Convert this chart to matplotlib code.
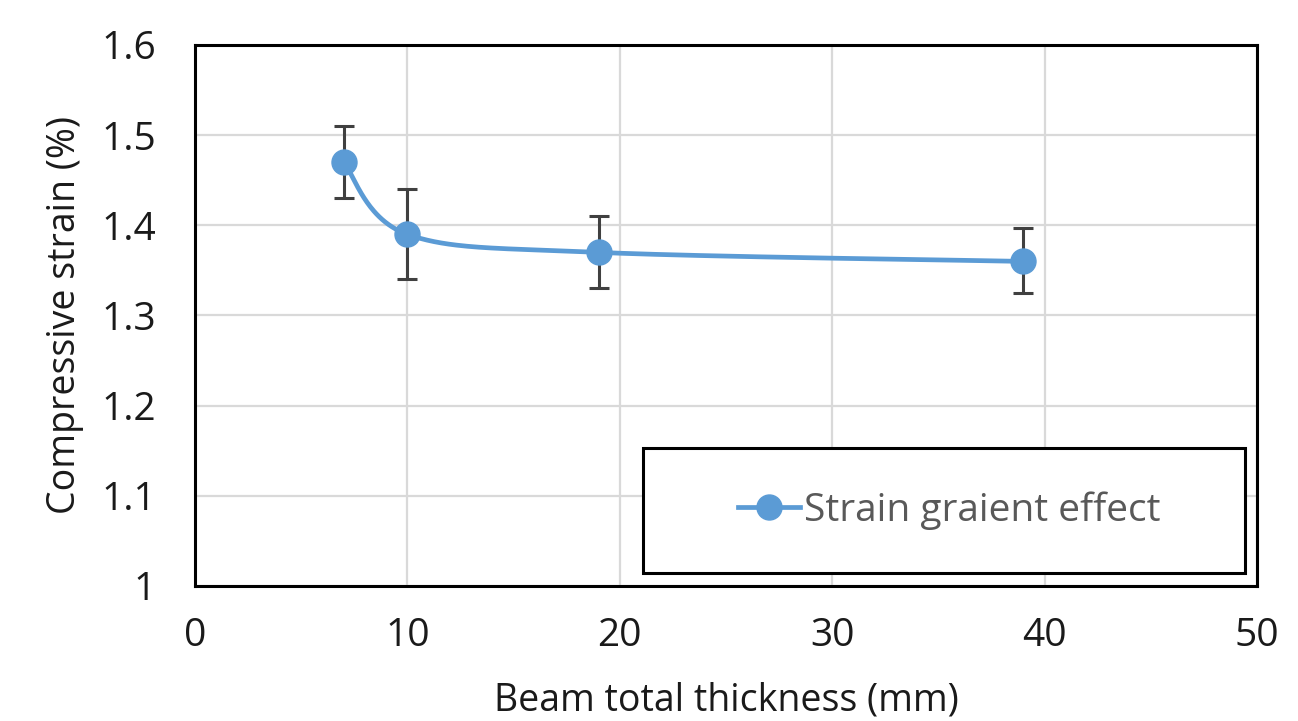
import numpy as np
import matplotlib
matplotlib.use("Agg")
import matplotlib.pyplot as plt
from matplotlib.lines import Line2D
from matplotlib.patches import Rectangle

plt.rcParams['font.family'] = ['Open Sans', 'DejaVu Sans']

thickness = [7, 10, 19, 39]
strain = [1.47, 1.39, 1.37, 1.36]
err_low = [1.43, 1.34, 1.33, 1.325]
err_high = [1.51, 1.44, 1.41, 1.397]
series_label = "Strain graient effect"
xlabel = "Beam total thickness (mm)"
ylabel = "Compressive strain (%)"
xticks = [0, 10, 20, 30, 40, 50]
yticks = [1.0, 1.1, 1.2, 1.3, 1.4, 1.5, 1.6]
ytick_labels = ["1", "1.1", "1.2", "1.3", "1.4", "1.5", "1.6"]

blue = "#5B9BD5"
dark = "#404040"
txt = "#1a1a1a"

fig = plt.figure(figsize=(12.98, 7.21), dpi=100)
ax = fig.add_axes([195/1298, 1-586/721, (1257-195)/1298, (586-45)/721])
ax.set_xlim(0, 50)
ax.set_ylim(1.0, 1.6)

# Excel-like smoothed line (cardinal bezier) computed in normalized space
def smooth(xs, ys, xr, yr, n=60):
    asp = 541/1062
    P = np.column_stack([(np.array(xs) - xr[0]) / (xr[1] - xr[0]),
                         (np.array(ys) - yr[0]) / (yr[1] - yr[0]) * asp])
    out = []
    m = len(P)
    for i in range(m - 1):
        p0 = P[i - 1] if i > 0 else P[i]
        p1, p2 = P[i], P[i + 1]
        p3 = P[i + 2] if i + 2 < m else P[i + 1]
        c1 = p1 + (p2 - p0) / 6
        c2 = p2 - (p3 - p1) / 6
        t = np.linspace(0, 1, n)[:, None]
        seg = (1-t)**3*p1 + 3*(1-t)**2*t*c1 + 3*(1-t)*t**2*c2 + t**3*p2
        out.append(seg if i == 0 else seg[1:])
    S = np.vstack(out)
    sx = S[:, 0] * (xr[1] - xr[0]) + xr[0]
    sy = S[:, 1] / asp * (yr[1] - yr[0]) + yr[0]
    return sx, sy

sx, sy = smooth(thickness, strain, (0, 50), (1.0, 1.6))
ax.plot(sx, sy, color=blue, lw=3.4, zorder=3, solid_capstyle='round')

s = np.array(strain)
yerr = [s - np.array(err_low), np.array(err_high) - s]
ax.errorbar(thickness, strain, yerr=yerr, fmt='none', ecolor=dark, elinewidth=2.2,
            capsize=7.5, capthick=2.2, zorder=2)
ax.plot(thickness, strain, 'o', color=blue, ms=18, zorder=4)

ax.set_xticks(xticks)
ax.set_yticks(yticks)
ax.set_yticklabels(ytick_labels)
ax.tick_params(length=0, labelsize=28, colors=txt)
ax.tick_params(axis='x', pad=22)
ax.tick_params(axis='y', pad=28)
ax.grid(True, color='#d9d9d9', lw=1.6)
ax.set_axisbelow(True)
for sp in ax.spines.values():
    sp.set_linewidth(2.2)
    sp.set_color('black')

ax.set_xlabel(xlabel, fontsize=27, color=txt, va='center')
ax.set_ylabel(ylabel, fontsize=27, color=txt, va='center')
ax.xaxis.set_label_coords(0.5, -(700 - 586) / 541)
ax.yaxis.set_label_coords((65 - 195) / 1062, 0.5)

# legend box
bx0, by0, bw, bh = 0.422, 0.024, 0.567, 0.231
ax.add_patch(Rectangle((bx0, by0), bw, bh, transform=ax.transAxes, facecolor='white',
                       edgecolor='black', lw=2.2, zorder=5))
handle = Line2D([], [], color=blue, lw=3.4, marker='o', ms=18)
leg = ax.legend([handle], [series_label], loc='center',
                bbox_to_anchor=(bx0 + bw/2 + 0.005, by0 + bh/2), bbox_transform=ax.transAxes,
                fontsize=28, frameon=False, handlelength=1.6, handletextpad=0.1,
                labelcolor='#595959', borderaxespad=0)
leg.set_zorder(6)

fig.savefig("out.png", dpi=100)
